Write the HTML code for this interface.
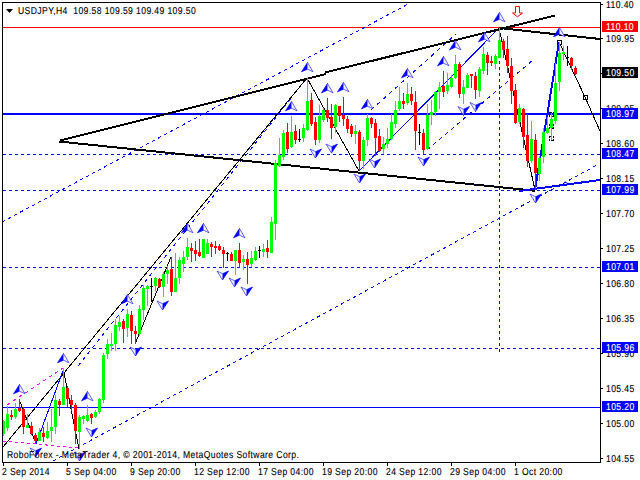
<!DOCTYPE html>
<html><head><meta charset="utf-8"><style>html,body{margin:0;padding:0;background:#fff;overflow:hidden}svg{display:block}</style></head><body>
<svg width="640" height="480" viewBox="0 0 640 480">
<rect width="640" height="480" fill="#fff"/>
<g fill="none" stroke="#000" stroke-width="1" stroke-dasharray="2 1" shape-rendering="crispEdges">
<rect x="549.5" y="112.5" width="4" height="4"/>
<rect x="549.5" y="124.5" width="4" height="4"/>
<rect x="549.5" y="136.5" width="4" height="4"/>
</g>
<g shape-rendering="crispEdges">
<line x1="3" y1="27.5" x2="600" y2="27.5" stroke="#ff0000" stroke-width="1" shape-rendering="crispEdges"/>
<line x1="3" y1="114.0" x2="600" y2="114.0" stroke="#0000ff" stroke-width="2" shape-rendering="crispEdges"/>
<line x1="3" y1="407.5" x2="600" y2="407.5" stroke="#0000ff" stroke-width="1" shape-rendering="crispEdges"/>
<line x1="3" y1="154.5" x2="600" y2="154.5" stroke="#0000ff" stroke-width="1" stroke-dasharray="3 3" shape-rendering="crispEdges"/>
<line x1="3" y1="190.5" x2="600" y2="190.5" stroke="#0000ff" stroke-width="1" stroke-dasharray="3 3" shape-rendering="crispEdges"/>
<line x1="3" y1="267.5" x2="600" y2="267.5" stroke="#0000ff" stroke-width="1" stroke-dasharray="3 3" shape-rendering="crispEdges"/>
<line x1="3" y1="348.5" x2="600" y2="348.5" stroke="#0000ff" stroke-width="1" stroke-dasharray="3 3" shape-rendering="crispEdges"/>
</g>
<line x1="499.5" y1="31" x2="499.5" y2="352" stroke="#0000ff" stroke-width="1" stroke-dasharray="3 3" shape-rendering="crispEdges"/>
<g shape-rendering="crispEdges">
<line x1="2" y1="222" x2="410" y2="3" stroke="#0000ff" stroke-width="1" stroke-dasharray="3.405 3.405"/>
<line x1="53" y1="461" x2="597" y2="165" stroke="#0000ff" stroke-width="1" stroke-dasharray="3.415 3.415"/>
<line x1="78" y1="366" x2="293" y2="96" stroke="#0000ff" stroke-width="1" stroke-dasharray="3.835 3.835"/>
<line x1="371" y1="110" x2="456" y2="34" stroke="#0000ff" stroke-width="1" stroke-dasharray="4.024 4.024"/>
<line x1="427" y1="150" x2="533" y2="60" stroke="#0000ff" stroke-width="1" stroke-dasharray="3.935 3.935"/>
<line x1="7" y1="405" x2="63" y2="368" stroke="#ff00ff" stroke-width="1" stroke-dasharray="3.596 3.596"/>
<line x1="3" y1="441" x2="79" y2="448" stroke="#ff00ff" stroke-width="1" stroke-dasharray="3.013 3.013"/>
</g>
<g fill="#fff" stroke="#000" stroke-width="1" shape-rendering="crispEdges">
<rect x="557.5" y="40.5" width="4" height="4"/>
<rect x="583.5" y="95.5" width="4" height="4"/>
</g>
<g shape-rendering="crispEdges">
<line x1="3" y1="447" x2="307" y2="78" stroke="#000000" stroke-width="1"/>
<line x1="19" y1="399" x2="36" y2="444" stroke="#000000" stroke-width="1"/>
<line x1="63" y1="368" x2="79" y2="449" stroke="#000000" stroke-width="1"/>
<line x1="135" y1="344" x2="171" y2="257" stroke="#000000" stroke-width="1"/>
<line x1="307" y1="78" x2="359" y2="171" stroke="#000000" stroke-width="1"/>
<line x1="499" y1="28" x2="535" y2="190" stroke="#000000" stroke-width="1"/>
<line x1="559" y1="42" x2="585" y2="97" stroke="#000000" stroke-width="1"/>
<line x1="585" y1="97" x2="600" y2="131" stroke="#000000" stroke-width="1"/>
<line x1="36" y1="444" x2="64" y2="368" stroke="#0000ff" stroke-width="1"/>
<line x1="359" y1="171" x2="499" y2="28" stroke="#0000ff" stroke-width="1"/>
</g>
<g shape-rendering="crispEdges">
<line x1="60" y1="140.5" x2="326" y2="74" stroke="#000000" stroke-width="2"/>
<line x1="325" y1="72.5" x2="555" y2="15.5" stroke="#000000" stroke-width="2"/>
<line x1="59" y1="141.5" x2="535" y2="190.8" stroke="#000000" stroke-width="2"/>
<line x1="499" y1="28" x2="600" y2="39" stroke="#000000" stroke-width="2"/>
<line x1="519" y1="191" x2="600" y2="180" stroke="#0000ff" stroke-width="2"/>
<line x1="535" y1="190" x2="559" y2="42" stroke="#0000ff" stroke-width="2"/>
</g>
<circle cx="565.5" cy="183.5" r="1.5" fill="none" stroke="#0000ff" stroke-width="1"/>
<g><path d="M19.5 384.5 L13.5 393.8 L19.5 391.2 Z" fill="#0000ff" stroke="#0000ff" stroke-width="0.7"/><path d="M19.5 384.5 L25 393.8 L19.5 391.2" fill="#f0f0ff" stroke="#0000ff" stroke-width="0.8" stroke-opacity="0.75"/></g>
<g><path d="M63.5 353.5 L57.5 362.8 L63.5 360.2 Z" fill="#0000ff" stroke="#0000ff" stroke-width="0.7"/><path d="M63.5 353.5 L69 362.8 L63.5 360.2" fill="#f0f0ff" stroke="#0000ff" stroke-width="0.8" stroke-opacity="0.75"/></g>
<g><path d="M87.5 391.5 L81.5 400.8 L87.5 398.2 Z" fill="#0000ff" stroke="#0000ff" stroke-width="0.7"/><path d="M87.5 391.5 L93 400.8 L87.5 398.2" fill="#f0f0ff" stroke="#0000ff" stroke-width="0.8" stroke-opacity="0.75"/></g>
<g><path d="M127.5 294.5 L121.5 303.8 L127.5 301.2 Z" fill="#0000ff" stroke="#0000ff" stroke-width="0.7"/><path d="M127.5 294.5 L133 303.8 L127.5 301.2" fill="#f0f0ff" stroke="#0000ff" stroke-width="0.8" stroke-opacity="0.75"/></g>
<g><path d="M187.5 223.5 L181.5 232.8 L187.5 230.2 Z" fill="#0000ff" stroke="#0000ff" stroke-width="0.7"/><path d="M187.5 223.5 L193 232.8 L187.5 230.2" fill="#f0f0ff" stroke="#0000ff" stroke-width="0.8" stroke-opacity="0.75"/></g>
<g><path d="M203.5 223.5 L197.5 232.8 L203.5 230.2 Z" fill="#0000ff" stroke="#0000ff" stroke-width="0.7"/><path d="M203.5 223.5 L209 232.8 L203.5 230.2" fill="#f0f0ff" stroke="#0000ff" stroke-width="0.8" stroke-opacity="0.75"/></g>
<g><path d="M239.5 228.5 L233.5 237.8 L239.5 235.2 Z" fill="#0000ff" stroke="#0000ff" stroke-width="0.7"/><path d="M239.5 228.5 L245 237.8 L239.5 235.2" fill="#f0f0ff" stroke="#0000ff" stroke-width="0.8" stroke-opacity="0.75"/></g>
<g><path d="M291.5 101.5 L285.5 110.8 L291.5 108.2 Z" fill="#0000ff" stroke="#0000ff" stroke-width="0.7"/><path d="M291.5 101.5 L297 110.8 L291.5 108.2" fill="#f0f0ff" stroke="#0000ff" stroke-width="0.8" stroke-opacity="0.75"/></g>
<g><path d="M307.5 62.5 L301.5 71.8 L307.5 69.2 Z" fill="#0000ff" stroke="#0000ff" stroke-width="0.7"/><path d="M307.5 62.5 L313 71.8 L307.5 69.2" fill="#f0f0ff" stroke="#0000ff" stroke-width="0.8" stroke-opacity="0.75"/></g>
<g><path d="M327.5 83.5 L321.5 92.8 L327.5 90.2 Z" fill="#0000ff" stroke="#0000ff" stroke-width="0.7"/><path d="M327.5 83.5 L333 92.8 L327.5 90.2" fill="#f0f0ff" stroke="#0000ff" stroke-width="0.8" stroke-opacity="0.75"/></g>
<g><path d="M343.5 82.5 L337.5 91.8 L343.5 89.2 Z" fill="#0000ff" stroke="#0000ff" stroke-width="0.7"/><path d="M343.5 82.5 L349 91.8 L343.5 89.2" fill="#f0f0ff" stroke="#0000ff" stroke-width="0.8" stroke-opacity="0.75"/></g>
<g><path d="M367.5 99.5 L361.5 108.8 L367.5 106.2 Z" fill="#0000ff" stroke="#0000ff" stroke-width="0.7"/><path d="M367.5 99.5 L373 108.8 L367.5 106.2" fill="#f0f0ff" stroke="#0000ff" stroke-width="0.8" stroke-opacity="0.75"/></g>
<g><path d="M407.5 68.5 L401.5 77.8 L407.5 75.2 Z" fill="#0000ff" stroke="#0000ff" stroke-width="0.7"/><path d="M407.5 68.5 L413 77.8 L407.5 75.2" fill="#f0f0ff" stroke="#0000ff" stroke-width="0.8" stroke-opacity="0.75"/></g>
<g><path d="M443.5 56.5 L437.5 65.8 L443.5 63.2 Z" fill="#0000ff" stroke="#0000ff" stroke-width="0.7"/><path d="M443.5 56.5 L449 65.8 L443.5 63.2" fill="#f0f0ff" stroke="#0000ff" stroke-width="0.8" stroke-opacity="0.75"/></g>
<g><path d="M455.5 40.5 L449.5 49.8 L455.5 47.2 Z" fill="#0000ff" stroke="#0000ff" stroke-width="0.7"/><path d="M455.5 40.5 L461 49.8 L455.5 47.2" fill="#f0f0ff" stroke="#0000ff" stroke-width="0.8" stroke-opacity="0.75"/></g>
<g><path d="M484.5 32.5 L478.5 41.8 L484.5 39.2 Z" fill="#0000ff" stroke="#0000ff" stroke-width="0.7"/><path d="M484.5 32.5 L490 41.8 L484.5 39.2" fill="#f0f0ff" stroke="#0000ff" stroke-width="0.8" stroke-opacity="0.75"/></g>
<g><path d="M499.5 12.5 L493.5 21.8 L499.5 19.2 Z" fill="#0000ff" stroke="#0000ff" stroke-width="0.7"/><path d="M499.5 12.5 L505 21.8 L499.5 19.2" fill="#f0f0ff" stroke="#0000ff" stroke-width="0.8" stroke-opacity="0.75"/></g>
<g><path d="M559.5 27.5 L553.5 36.8 L559.5 34.2 Z" fill="#0000ff" stroke="#0000ff" stroke-width="0.7"/><path d="M559.5 27.5 L565 36.8 L559.5 34.2" fill="#f0f0ff" stroke="#0000ff" stroke-width="0.8" stroke-opacity="0.75"/></g>
<g><path d="M35.5 457 L41.5 448 L35.5 450.7 Z" fill="#0000ff" stroke="#0000ff" stroke-width="0.7"/><path d="M35.5 457 L30 448 L35.5 450.7" fill="#f0f0ff" stroke="#0000ff" stroke-width="0.8" stroke-opacity="0.75"/></g>
<g><path d="M79.5 461 L85.5 452 L79.5 454.7 Z" fill="#0000ff" stroke="#0000ff" stroke-width="0.7"/><path d="M79.5 461 L74 452 L79.5 454.7" fill="#f0f0ff" stroke="#0000ff" stroke-width="0.8" stroke-opacity="0.75"/></g>
<g><path d="M91.5 437 L97.5 428 L91.5 430.7 Z" fill="#0000ff" stroke="#0000ff" stroke-width="0.7"/><path d="M91.5 437 L86 428 L91.5 430.7" fill="#f0f0ff" stroke="#0000ff" stroke-width="0.8" stroke-opacity="0.75"/></g>
<g><path d="M135.5 356 L141.5 347 L135.5 349.7 Z" fill="#0000ff" stroke="#0000ff" stroke-width="0.7"/><path d="M135.5 356 L130 347 L135.5 349.7" fill="#f0f0ff" stroke="#0000ff" stroke-width="0.8" stroke-opacity="0.75"/></g>
<g><path d="M162.5 310 L168.5 301 L162.5 303.7 Z" fill="#0000ff" stroke="#0000ff" stroke-width="0.7"/><path d="M162.5 310 L157 301 L162.5 303.7" fill="#f0f0ff" stroke="#0000ff" stroke-width="0.8" stroke-opacity="0.75"/></g>
<g><path d="M222.5 280 L228.5 271 L222.5 273.7 Z" fill="#0000ff" stroke="#0000ff" stroke-width="0.7"/><path d="M222.5 280 L217 271 L222.5 273.7" fill="#f0f0ff" stroke="#0000ff" stroke-width="0.8" stroke-opacity="0.75"/></g>
<g><path d="M234.5 287 L240.5 278 L234.5 280.7 Z" fill="#0000ff" stroke="#0000ff" stroke-width="0.7"/><path d="M234.5 287 L229 278 L234.5 280.7" fill="#f0f0ff" stroke="#0000ff" stroke-width="0.8" stroke-opacity="0.75"/></g>
<g><path d="M246.5 296 L252.5 287 L246.5 289.7 Z" fill="#0000ff" stroke="#0000ff" stroke-width="0.7"/><path d="M246.5 296 L241 287 L246.5 289.7" fill="#f0f0ff" stroke="#0000ff" stroke-width="0.8" stroke-opacity="0.75"/></g>
<g><path d="M315.5 158 L321.5 149 L315.5 151.7 Z" fill="#0000ff" stroke="#0000ff" stroke-width="0.7"/><path d="M315.5 158 L310 149 L315.5 151.7" fill="#f0f0ff" stroke="#0000ff" stroke-width="0.8" stroke-opacity="0.75"/></g>
<g><path d="M331.5 153 L337.5 144 L331.5 146.7 Z" fill="#0000ff" stroke="#0000ff" stroke-width="0.7"/><path d="M331.5 153 L326 144 L331.5 146.7" fill="#f0f0ff" stroke="#0000ff" stroke-width="0.8" stroke-opacity="0.75"/></g>
<g><path d="M359.5 183 L365.5 174 L359.5 176.7 Z" fill="#0000ff" stroke="#0000ff" stroke-width="0.7"/><path d="M359.5 183 L354 174 L359.5 176.7" fill="#f0f0ff" stroke="#0000ff" stroke-width="0.8" stroke-opacity="0.75"/></g>
<g><path d="M374.5 168 L380.5 159 L374.5 161.7 Z" fill="#0000ff" stroke="#0000ff" stroke-width="0.7"/><path d="M374.5 168 L369 159 L374.5 161.7" fill="#f0f0ff" stroke="#0000ff" stroke-width="0.8" stroke-opacity="0.75"/></g>
<g><path d="M423.5 166 L429.5 157 L423.5 159.7 Z" fill="#0000ff" stroke="#0000ff" stroke-width="0.7"/><path d="M423.5 166 L418 157 L423.5 159.7" fill="#f0f0ff" stroke="#0000ff" stroke-width="0.8" stroke-opacity="0.75"/></g>
<g><path d="M463.5 115.5 L469.5 106.5 L463.5 109.2 Z" fill="#0000ff" stroke="#0000ff" stroke-width="0.7"/><path d="M463.5 115.5 L458 106.5 L463.5 109.2" fill="#f0f0ff" stroke="#0000ff" stroke-width="0.8" stroke-opacity="0.75"/></g>
<g><path d="M475.5 111.5 L481.5 102.5 L475.5 105.2 Z" fill="#0000ff" stroke="#0000ff" stroke-width="0.7"/><path d="M475.5 111.5 L470 102.5 L475.5 105.2" fill="#f0f0ff" stroke="#0000ff" stroke-width="0.8" stroke-opacity="0.75"/></g>
<g><path d="M535.5 203 L541.5 194 L535.5 196.7 Z" fill="#0000ff" stroke="#0000ff" stroke-width="0.7"/><path d="M535.5 203 L530 194 L535.5 196.7" fill="#f0f0ff" stroke="#0000ff" stroke-width="0.8" stroke-opacity="0.75"/></g>
<path d="M515.5 6.5 H519.5 V13 H522.5 L517.5 16.8 L512.5 13 H515.5 Z" fill="#fff" stroke="#ff0000" stroke-width="1"/>
<g shape-rendering="crispEdges">
<rect x="3" y="420" width="1" height="16" fill="#00ff00"/>
<rect x="2" y="421" width="3" height="13" fill="#00ff00"/>
<rect x="7" y="406" width="1" height="25" fill="#00ff00"/>
<rect x="6" y="414" width="3" height="14" fill="#00ff00"/>
<rect x="11" y="410" width="1" height="10" fill="#ff0000"/>
<rect x="10" y="415" width="3" height="2" fill="#ff0000"/>
<rect x="15" y="403" width="1" height="16" fill="#00ff00"/>
<rect x="14" y="409" width="3" height="8" fill="#00ff00"/>
<rect x="19" y="399" width="1" height="13" fill="#ff0000"/>
<rect x="18" y="408" width="3" height="3" fill="#ff0000"/>
<rect x="23" y="407" width="1" height="27" fill="#ff0000"/>
<rect x="22" y="409" width="3" height="18" fill="#ff0000"/>
<rect x="27" y="414" width="1" height="14" fill="#00ff00"/>
<rect x="26" y="425" width="3" height="3" fill="#00ff00"/>
<rect x="31" y="422" width="1" height="13" fill="#ff0000"/>
<rect x="30" y="426" width="3" height="8" fill="#ff0000"/>
<rect x="35" y="433" width="1" height="11" fill="#ff0000"/>
<rect x="34" y="435" width="3" height="6" fill="#ff0000"/>
<rect x="39" y="428" width="1" height="13" fill="#00ff00"/>
<rect x="38" y="432" width="3" height="9" fill="#00ff00"/>
<rect x="43" y="427" width="1" height="15" fill="#ff0000"/>
<rect x="42" y="433" width="3" height="4" fill="#ff0000"/>
<rect x="47" y="422" width="1" height="17" fill="#00ff00"/>
<rect x="46" y="431" width="3" height="7" fill="#00ff00"/>
<rect x="51" y="409" width="1" height="33" fill="#00ff00"/>
<rect x="50" y="427" width="3" height="4" fill="#00ff00"/>
<rect x="55" y="395" width="1" height="39" fill="#00ff00"/>
<rect x="54" y="400" width="3" height="27" fill="#00ff00"/>
<rect x="59" y="399" width="1" height="17" fill="#ff0000"/>
<rect x="58" y="401" width="3" height="4" fill="#ff0000"/>
<rect x="63" y="368" width="1" height="37" fill="#00ff00"/>
<rect x="62" y="387" width="3" height="18" fill="#00ff00"/>
<rect x="67" y="386" width="1" height="21" fill="#ff0000"/>
<rect x="66" y="388" width="3" height="11" fill="#ff0000"/>
<rect x="71" y="395" width="1" height="16" fill="#ff0000"/>
<rect x="70" y="400" width="3" height="5" fill="#ff0000"/>
<rect x="75" y="403" width="1" height="41" fill="#ff0000"/>
<rect x="74" y="405" width="3" height="26" fill="#ff0000"/>
<rect x="79" y="415" width="1" height="34" fill="#00ff00"/>
<rect x="78" y="417" width="3" height="15" fill="#00ff00"/>
<rect x="83" y="415" width="1" height="9" fill="#00ff00"/>
<rect x="82" y="416" width="3" height="3" fill="#00ff00"/>
<rect x="87" y="405" width="1" height="17" fill="#00ff00"/>
<rect x="86" y="415" width="3" height="6" fill="#00ff00"/>
<rect x="91" y="413" width="1" height="11" fill="#ff0000"/>
<rect x="90" y="414" width="3" height="4" fill="#ff0000"/>
<rect x="95" y="410" width="1" height="8" fill="#00ff00"/>
<rect x="94" y="412" width="3" height="5" fill="#00ff00"/>
<rect x="99" y="398" width="1" height="16" fill="#00ff00"/>
<rect x="98" y="399" width="3" height="13" fill="#00ff00"/>
<rect x="103" y="353" width="1" height="50" fill="#00ff00"/>
<rect x="102" y="355" width="3" height="45" fill="#00ff00"/>
<rect x="107" y="339" width="1" height="20" fill="#00ff00"/>
<rect x="106" y="344" width="3" height="10" fill="#00ff00"/>
<rect x="111" y="333" width="1" height="18" fill="#00ff00"/>
<rect x="110" y="344" width="3" height="2" fill="#00ff00"/>
<rect x="115" y="319" width="1" height="32" fill="#00ff00"/>
<rect x="114" y="325" width="3" height="19" fill="#00ff00"/>
<rect x="119" y="316" width="1" height="15" fill="#00ff00"/>
<rect x="118" y="322" width="3" height="5" fill="#00ff00"/>
<rect x="123" y="319" width="1" height="24" fill="#ff0000"/>
<rect x="122" y="321" width="3" height="8" fill="#ff0000"/>
<rect x="127" y="309" width="1" height="28" fill="#00ff00"/>
<rect x="126" y="314" width="3" height="14" fill="#00ff00"/>
<rect x="131" y="311" width="1" height="33" fill="#ff0000"/>
<rect x="130" y="315" width="3" height="16" fill="#ff0000"/>
<rect x="135" y="326" width="1" height="18" fill="#ff0000"/>
<rect x="134" y="331" width="3" height="3" fill="#ff0000"/>
<rect x="139" y="305" width="1" height="31" fill="#00ff00"/>
<rect x="138" y="309" width="3" height="25" fill="#00ff00"/>
<rect x="143" y="285" width="1" height="35" fill="#00ff00"/>
<rect x="142" y="288" width="3" height="22" fill="#00ff00"/>
<rect x="147" y="285" width="1" height="21" fill="#00ff00"/>
<rect x="146" y="286" width="3" height="3" fill="#00ff00"/>
<rect x="151" y="278" width="1" height="24" fill="#000"/>
<rect x="150" y="286" width="3" height="1" fill="#000"/>
<rect x="155" y="277" width="1" height="14" fill="#00ff00"/>
<rect x="154" y="278" width="3" height="8" fill="#00ff00"/>
<rect x="159" y="278" width="1" height="10" fill="#ff0000"/>
<rect x="158" y="279" width="3" height="8" fill="#ff0000"/>
<rect x="163" y="272" width="1" height="25" fill="#00ff00"/>
<rect x="162" y="274" width="3" height="13" fill="#00ff00"/>
<rect x="167" y="266" width="1" height="18" fill="#00ff00"/>
<rect x="166" y="270" width="3" height="4" fill="#00ff00"/>
<rect x="171" y="257" width="1" height="39" fill="#ff0000"/>
<rect x="170" y="269" width="3" height="23" fill="#ff0000"/>
<rect x="175" y="253" width="1" height="39" fill="#00ff00"/>
<rect x="174" y="278" width="3" height="14" fill="#00ff00"/>
<rect x="179" y="257" width="1" height="27" fill="#00ff00"/>
<rect x="178" y="260" width="3" height="18" fill="#00ff00"/>
<rect x="183" y="251" width="1" height="21" fill="#00ff00"/>
<rect x="182" y="257" width="3" height="7" fill="#00ff00"/>
<rect x="187" y="238" width="1" height="22" fill="#00ff00"/>
<rect x="186" y="247" width="3" height="10" fill="#00ff00"/>
<rect x="191" y="243" width="1" height="19" fill="#ff0000"/>
<rect x="190" y="248" width="3" height="3" fill="#ff0000"/>
<rect x="195" y="241" width="1" height="20" fill="#ff0000"/>
<rect x="194" y="250" width="3" height="4" fill="#ff0000"/>
<rect x="199" y="239" width="1" height="18" fill="#ff0000"/>
<rect x="198" y="252" width="3" height="4" fill="#ff0000"/>
<rect x="203" y="239" width="1" height="19" fill="#00ff00"/>
<rect x="202" y="239" width="3" height="19" fill="#00ff00"/>
<rect x="207" y="239" width="1" height="15" fill="#00ff00"/>
<rect x="206" y="243" width="3" height="11" fill="#00ff00"/>
<rect x="211" y="242" width="1" height="15" fill="#ff0000"/>
<rect x="210" y="244" width="3" height="3" fill="#ff0000"/>
<rect x="215" y="241" width="1" height="13" fill="#ff0000"/>
<rect x="214" y="246" width="3" height="2" fill="#ff0000"/>
<rect x="219" y="244" width="1" height="7" fill="#ff0000"/>
<rect x="218" y="246" width="3" height="4" fill="#ff0000"/>
<rect x="223" y="247" width="1" height="21" fill="#ff0000"/>
<rect x="222" y="250" width="3" height="4" fill="#ff0000"/>
<rect x="227" y="252" width="1" height="9" fill="#000"/>
<rect x="226" y="253" width="3" height="1" fill="#000"/>
<rect x="231" y="252" width="1" height="9" fill="#ff0000"/>
<rect x="230" y="254" width="3" height="7" fill="#ff0000"/>
<rect x="235" y="250" width="1" height="25" fill="#00ff00"/>
<rect x="234" y="250" width="3" height="11" fill="#00ff00"/>
<rect x="239" y="243" width="1" height="25" fill="#ff0000"/>
<rect x="238" y="250" width="3" height="13" fill="#ff0000"/>
<rect x="243" y="255" width="1" height="15" fill="#00ff00"/>
<rect x="242" y="259" width="3" height="3" fill="#00ff00"/>
<rect x="247" y="252" width="1" height="32" fill="#ff0000"/>
<rect x="246" y="259" width="3" height="6" fill="#ff0000"/>
<rect x="251" y="251" width="1" height="16" fill="#00ff00"/>
<rect x="250" y="258" width="3" height="6" fill="#00ff00"/>
<rect x="255" y="247" width="1" height="14" fill="#00ff00"/>
<rect x="254" y="251" width="3" height="9" fill="#00ff00"/>
<rect x="259" y="246" width="1" height="12" fill="#000"/>
<rect x="258" y="250" width="3" height="1" fill="#000"/>
<rect x="263" y="244" width="1" height="13" fill="#00ff00"/>
<rect x="262" y="249" width="3" height="3" fill="#00ff00"/>
<rect x="267" y="240" width="1" height="18" fill="#ff0000"/>
<rect x="266" y="248" width="3" height="4" fill="#ff0000"/>
<rect x="271" y="217" width="1" height="36" fill="#00ff00"/>
<rect x="270" y="222" width="3" height="31" fill="#00ff00"/>
<rect x="275" y="160" width="1" height="80" fill="#00ff00"/>
<rect x="274" y="163" width="3" height="61" fill="#00ff00"/>
<rect x="279" y="138" width="1" height="29" fill="#00ff00"/>
<rect x="278" y="155" width="3" height="11" fill="#00ff00"/>
<rect x="283" y="130" width="1" height="30" fill="#00ff00"/>
<rect x="282" y="133" width="3" height="24" fill="#00ff00"/>
<rect x="287" y="123" width="1" height="30" fill="#ff0000"/>
<rect x="286" y="132" width="3" height="17" fill="#ff0000"/>
<rect x="291" y="116" width="1" height="32" fill="#00ff00"/>
<rect x="290" y="132" width="3" height="15" fill="#00ff00"/>
<rect x="295" y="125" width="1" height="19" fill="#ff0000"/>
<rect x="294" y="131" width="3" height="9" fill="#ff0000"/>
<rect x="299" y="129" width="1" height="13" fill="#000"/>
<rect x="298" y="139" width="3" height="1" fill="#000"/>
<rect x="303" y="124" width="1" height="18" fill="#00ff00"/>
<rect x="302" y="128" width="3" height="10" fill="#00ff00"/>
<rect x="307" y="78" width="1" height="53" fill="#00ff00"/>
<rect x="306" y="101" width="3" height="29" fill="#00ff00"/>
<rect x="311" y="93" width="1" height="33" fill="#ff0000"/>
<rect x="310" y="100" width="3" height="24" fill="#ff0000"/>
<rect x="315" y="117" width="1" height="28" fill="#ff0000"/>
<rect x="314" y="122" width="3" height="18" fill="#ff0000"/>
<rect x="319" y="105" width="1" height="38" fill="#00ff00"/>
<rect x="318" y="116" width="3" height="24" fill="#00ff00"/>
<rect x="323" y="108" width="1" height="14" fill="#00ff00"/>
<rect x="322" y="110" width="3" height="10" fill="#00ff00"/>
<rect x="327" y="98" width="1" height="24" fill="#ff0000"/>
<rect x="326" y="110" width="3" height="8" fill="#ff0000"/>
<rect x="331" y="104" width="1" height="35" fill="#ff0000"/>
<rect x="330" y="117" width="3" height="11" fill="#ff0000"/>
<rect x="335" y="104" width="1" height="29" fill="#00ff00"/>
<rect x="334" y="105" width="3" height="22" fill="#00ff00"/>
<rect x="339" y="106" width="1" height="16" fill="#ff0000"/>
<rect x="338" y="106" width="3" height="10" fill="#ff0000"/>
<rect x="343" y="97" width="1" height="29" fill="#ff0000"/>
<rect x="342" y="115" width="3" height="4" fill="#ff0000"/>
<rect x="347" y="116" width="1" height="17" fill="#ff0000"/>
<rect x="346" y="119" width="3" height="10" fill="#ff0000"/>
<rect x="351" y="124" width="1" height="13" fill="#ff0000"/>
<rect x="350" y="126" width="3" height="8" fill="#ff0000"/>
<rect x="355" y="125" width="1" height="19" fill="#00ff00"/>
<rect x="354" y="131" width="3" height="3" fill="#00ff00"/>
<rect x="359" y="130" width="1" height="41" fill="#ff0000"/>
<rect x="358" y="132" width="3" height="29" fill="#ff0000"/>
<rect x="363" y="137" width="1" height="32" fill="#00ff00"/>
<rect x="362" y="140" width="3" height="21" fill="#00ff00"/>
<rect x="367" y="114" width="1" height="32" fill="#00ff00"/>
<rect x="366" y="118" width="3" height="22" fill="#00ff00"/>
<rect x="371" y="117" width="1" height="11" fill="#ff0000"/>
<rect x="370" y="118" width="3" height="6" fill="#ff0000"/>
<rect x="375" y="119" width="1" height="37" fill="#ff0000"/>
<rect x="374" y="123" width="3" height="15" fill="#ff0000"/>
<rect x="379" y="129" width="1" height="23" fill="#ff0000"/>
<rect x="378" y="136" width="3" height="15" fill="#ff0000"/>
<rect x="383" y="137" width="1" height="17" fill="#00ff00"/>
<rect x="382" y="144" width="3" height="5" fill="#00ff00"/>
<rect x="387" y="128" width="1" height="20" fill="#00ff00"/>
<rect x="386" y="139" width="3" height="5" fill="#00ff00"/>
<rect x="391" y="114" width="1" height="26" fill="#00ff00"/>
<rect x="390" y="122" width="3" height="17" fill="#00ff00"/>
<rect x="395" y="101" width="1" height="27" fill="#00ff00"/>
<rect x="394" y="110" width="3" height="14" fill="#00ff00"/>
<rect x="399" y="87" width="1" height="24" fill="#00ff00"/>
<rect x="398" y="101" width="3" height="8" fill="#00ff00"/>
<rect x="403" y="93" width="1" height="16" fill="#ff0000"/>
<rect x="402" y="101" width="3" height="3" fill="#ff0000"/>
<rect x="407" y="83" width="1" height="22" fill="#00ff00"/>
<rect x="406" y="94" width="3" height="9" fill="#00ff00"/>
<rect x="411" y="87" width="1" height="18" fill="#ff0000"/>
<rect x="410" y="94" width="3" height="7" fill="#ff0000"/>
<rect x="415" y="91" width="1" height="59" fill="#ff0000"/>
<rect x="414" y="102" width="3" height="29" fill="#ff0000"/>
<rect x="419" y="124" width="1" height="21" fill="#000"/>
<rect x="418" y="132" width="3" height="1" fill="#000"/>
<rect x="423" y="129" width="1" height="25" fill="#ff0000"/>
<rect x="422" y="133" width="3" height="17" fill="#ff0000"/>
<rect x="427" y="104" width="1" height="46" fill="#00ff00"/>
<rect x="426" y="115" width="3" height="34" fill="#00ff00"/>
<rect x="431" y="100" width="1" height="25" fill="#00ff00"/>
<rect x="430" y="112" width="3" height="3" fill="#00ff00"/>
<rect x="435" y="91" width="1" height="25" fill="#00ff00"/>
<rect x="434" y="92" width="3" height="20" fill="#00ff00"/>
<rect x="439" y="82" width="1" height="27" fill="#00ff00"/>
<rect x="438" y="87" width="3" height="5" fill="#00ff00"/>
<rect x="443" y="71" width="1" height="26" fill="#ff0000"/>
<rect x="442" y="86" width="3" height="6" fill="#ff0000"/>
<rect x="447" y="73" width="1" height="21" fill="#00ff00"/>
<rect x="446" y="85" width="3" height="6" fill="#00ff00"/>
<rect x="451" y="75" width="1" height="13" fill="#00ff00"/>
<rect x="450" y="78" width="3" height="9" fill="#00ff00"/>
<rect x="455" y="55" width="1" height="24" fill="#00ff00"/>
<rect x="454" y="64" width="3" height="14" fill="#00ff00"/>
<rect x="459" y="62" width="1" height="36" fill="#ff0000"/>
<rect x="458" y="64" width="3" height="30" fill="#ff0000"/>
<rect x="463" y="80" width="1" height="24" fill="#00ff00"/>
<rect x="462" y="87" width="3" height="7" fill="#00ff00"/>
<rect x="467" y="73" width="1" height="15" fill="#00ff00"/>
<rect x="466" y="75" width="3" height="13" fill="#00ff00"/>
<rect x="471" y="74" width="1" height="14" fill="#ff0000"/>
<rect x="470" y="74" width="3" height="2" fill="#ff0000"/>
<rect x="475" y="72" width="1" height="27" fill="#ff0000"/>
<rect x="474" y="76" width="3" height="14" fill="#ff0000"/>
<rect x="479" y="67" width="1" height="30" fill="#00ff00"/>
<rect x="478" y="69" width="3" height="22" fill="#00ff00"/>
<rect x="483" y="47" width="1" height="27" fill="#00ff00"/>
<rect x="482" y="54" width="3" height="17" fill="#00ff00"/>
<rect x="487" y="52" width="1" height="23" fill="#ff0000"/>
<rect x="486" y="55" width="3" height="8" fill="#ff0000"/>
<rect x="491" y="56" width="1" height="10" fill="#ff0000"/>
<rect x="490" y="61" width="3" height="2" fill="#ff0000"/>
<rect x="495" y="54" width="1" height="15" fill="#00ff00"/>
<rect x="494" y="56" width="3" height="8" fill="#00ff00"/>
<rect x="499" y="28" width="1" height="30" fill="#00ff00"/>
<rect x="498" y="40" width="3" height="18" fill="#00ff00"/>
<rect x="503" y="39" width="1" height="19" fill="#ff0000"/>
<rect x="502" y="41" width="3" height="9" fill="#ff0000"/>
<rect x="507" y="36" width="1" height="37" fill="#ff0000"/>
<rect x="506" y="49" width="3" height="17" fill="#ff0000"/>
<rect x="511" y="58" width="1" height="46" fill="#ff0000"/>
<rect x="510" y="66" width="3" height="25" fill="#ff0000"/>
<rect x="515" y="84" width="1" height="40" fill="#ff0000"/>
<rect x="514" y="90" width="3" height="33" fill="#ff0000"/>
<rect x="519" y="104" width="1" height="20" fill="#00ff00"/>
<rect x="518" y="108" width="3" height="14" fill="#00ff00"/>
<rect x="523" y="108" width="1" height="40" fill="#ff0000"/>
<rect x="522" y="109" width="3" height="28" fill="#ff0000"/>
<rect x="527" y="114" width="1" height="53" fill="#ff0000"/>
<rect x="526" y="135" width="3" height="26" fill="#ff0000"/>
<rect x="531" y="121" width="1" height="42" fill="#00ff00"/>
<rect x="530" y="139" width="3" height="22" fill="#00ff00"/>
<rect x="535" y="134" width="1" height="56" fill="#ff0000"/>
<rect x="534" y="140" width="3" height="33" fill="#ff0000"/>
<rect x="539" y="156" width="1" height="25" fill="#00ff00"/>
<rect x="538" y="158" width="3" height="16" fill="#00ff00"/>
<rect x="543" y="128" width="1" height="35" fill="#00ff00"/>
<rect x="542" y="132" width="3" height="25" fill="#00ff00"/>
<rect x="547" y="117" width="1" height="17" fill="#00ff00"/>
<rect x="546" y="128" width="3" height="5" fill="#00ff00"/>
<rect x="551" y="113" width="1" height="27" fill="#00ff00"/>
<rect x="550" y="119" width="3" height="9" fill="#00ff00"/>
<rect x="555" y="63" width="1" height="61" fill="#00ff00"/>
<rect x="554" y="83" width="3" height="38" fill="#00ff00"/>
<rect x="559" y="42" width="1" height="49" fill="#00ff00"/>
<rect x="558" y="53" width="3" height="29" fill="#00ff00"/>
<rect x="563" y="46" width="1" height="14" fill="#00ff00"/>
<rect x="562" y="52" width="3" height="2" fill="#00ff00"/>
<rect x="567" y="46" width="1" height="20" fill="#000"/>
<rect x="566" y="57" width="3" height="1" fill="#000"/>
<rect x="571" y="57" width="1" height="13" fill="#ff0000"/>
<rect x="570" y="58" width="3" height="8" fill="#ff0000"/>
<rect x="575" y="66" width="1" height="9" fill="#ff0000"/>
<rect x="574" y="68" width="3" height="6" fill="#ff0000"/>
</g>
<g shape-rendering="crispEdges">
<rect x="2.5" y="2.5" width="598" height="460" fill="none" stroke="#000" stroke-width="1"/>
</g>
<g style="font-family:'Liberation Sans',sans-serif;font-size:10px;letter-spacing:0.45px;text-rendering:geometricPrecision">
<rect x="600" y="4" width="3" height="1" fill="#000"/>
<text transform="translate(606,8) scale(0.86,1)" fill="#000" stroke="#000" stroke-width="0.12" xml:space="preserve">110.40</text>
<rect x="600" y="38" width="3" height="1" fill="#000"/>
<text transform="translate(606,42) scale(0.86,1)" fill="#000" stroke="#000" stroke-width="0.12" xml:space="preserve">109.95</text>
<rect x="600" y="73" width="3" height="1" fill="#000"/>
<text transform="translate(606,77) scale(0.86,1)" fill="#000" stroke="#000" stroke-width="0.12" xml:space="preserve">109.50</text>
<rect x="600" y="108" width="3" height="1" fill="#000"/>
<text transform="translate(606,112) scale(0.86,1)" fill="#000" stroke="#000" stroke-width="0.12" xml:space="preserve">109.05</text>
<rect x="600" y="143" width="3" height="1" fill="#000"/>
<text transform="translate(606,147) scale(0.86,1)" fill="#000" stroke="#000" stroke-width="0.12" xml:space="preserve">108.60</text>
<rect x="600" y="178" width="3" height="1" fill="#000"/>
<text transform="translate(606,182) scale(0.86,1)" fill="#000" stroke="#000" stroke-width="0.12" xml:space="preserve">108.15</text>
<rect x="600" y="213" width="3" height="1" fill="#000"/>
<text transform="translate(606,217) scale(0.86,1)" fill="#000" stroke="#000" stroke-width="0.12" xml:space="preserve">107.70</text>
<rect x="600" y="248" width="3" height="1" fill="#000"/>
<text transform="translate(606,252) scale(0.86,1)" fill="#000" stroke="#000" stroke-width="0.12" xml:space="preserve">107.25</text>
<rect x="600" y="283" width="3" height="1" fill="#000"/>
<text transform="translate(606,287) scale(0.86,1)" fill="#000" stroke="#000" stroke-width="0.12" xml:space="preserve">106.80</text>
<rect x="600" y="318" width="3" height="1" fill="#000"/>
<text transform="translate(606,322) scale(0.86,1)" fill="#000" stroke="#000" stroke-width="0.12" xml:space="preserve">106.35</text>
<rect x="600" y="353" width="3" height="1" fill="#000"/>
<text transform="translate(606,357) scale(0.86,1)" fill="#000" stroke="#000" stroke-width="0.12" xml:space="preserve">105.90</text>
<rect x="600" y="388" width="3" height="1" fill="#000"/>
<text transform="translate(606,392) scale(0.86,1)" fill="#000" stroke="#000" stroke-width="0.12" xml:space="preserve">105.45</text>
<rect x="600" y="423" width="3" height="1" fill="#000"/>
<text transform="translate(606,427) scale(0.86,1)" fill="#000" stroke="#000" stroke-width="0.12" xml:space="preserve">105.00</text>
<rect x="600" y="458" width="3" height="1" fill="#000"/>
<text transform="translate(606,462) scale(0.86,1)" fill="#000" stroke="#000" stroke-width="0.12" xml:space="preserve">104.55</text>
<rect x="602" y="21" width="36" height="11" fill="#ff0000"/>
<text transform="translate(606,30) scale(0.86,1)" fill="#fff" stroke="#fff" stroke-width="0.12" xml:space="preserve">110.10</text>
<rect x="602" y="67" width="36" height="11" fill="#000000"/>
<text transform="translate(606,76) scale(0.86,1)" fill="#fff" stroke="#fff" stroke-width="0.12" xml:space="preserve">109.50</text>
<rect x="602" y="108" width="36" height="11" fill="#0000ff"/>
<text transform="translate(606,117) scale(0.86,1)" fill="#fff" stroke="#fff" stroke-width="0.12" xml:space="preserve">108.97</text>
<rect x="602" y="148" width="36" height="11" fill="#0000ff"/>
<text transform="translate(606,157) scale(0.86,1)" fill="#fff" stroke="#fff" stroke-width="0.12" xml:space="preserve">108.47</text>
<rect x="602" y="184" width="36" height="11" fill="#0000ff"/>
<text transform="translate(606,193) scale(0.86,1)" fill="#fff" stroke="#fff" stroke-width="0.12" xml:space="preserve">107.99</text>
<rect x="602" y="261" width="36" height="11" fill="#0000ff"/>
<text transform="translate(606,270) scale(0.86,1)" fill="#fff" stroke="#fff" stroke-width="0.12" xml:space="preserve">107.01</text>
<rect x="602" y="342" width="36" height="11" fill="#0000ff"/>
<text transform="translate(606,351) scale(0.86,1)" fill="#fff" stroke="#fff" stroke-width="0.12" xml:space="preserve">105.96</text>
<rect x="602" y="401" width="36" height="11" fill="#0000ff"/>
<text transform="translate(606,410) scale(0.86,1)" fill="#fff" stroke="#fff" stroke-width="0.12" xml:space="preserve">105.20</text>
<rect x="3" y="462" width="1" height="4" fill="#000"/>
<text transform="translate(2,475) scale(0.86,1)" fill="#000" stroke="#000" stroke-width="0.12" xml:space="preserve">2 Sep 2014</text>
<rect x="67" y="462" width="1" height="4" fill="#000"/>
<text transform="translate(66,475) scale(0.86,1)" fill="#000" stroke="#000" stroke-width="0.12" xml:space="preserve">5 Sep 04:00</text>
<rect x="131" y="462" width="1" height="4" fill="#000"/>
<text transform="translate(130,475) scale(0.86,1)" fill="#000" stroke="#000" stroke-width="0.12" xml:space="preserve">9 Sep 20:00</text>
<rect x="195" y="462" width="1" height="4" fill="#000"/>
<text transform="translate(194,475) scale(0.86,1)" fill="#000" stroke="#000" stroke-width="0.12" xml:space="preserve">12 Sep 12:00</text>
<rect x="259" y="462" width="1" height="4" fill="#000"/>
<text transform="translate(258,475) scale(0.86,1)" fill="#000" stroke="#000" stroke-width="0.12" xml:space="preserve">17 Sep 04:00</text>
<rect x="323" y="462" width="1" height="4" fill="#000"/>
<text transform="translate(322,475) scale(0.86,1)" fill="#000" stroke="#000" stroke-width="0.12" xml:space="preserve">19 Sep 20:00</text>
<rect x="387" y="462" width="1" height="4" fill="#000"/>
<text transform="translate(386,475) scale(0.86,1)" fill="#000" stroke="#000" stroke-width="0.12" xml:space="preserve">24 Sep 12:00</text>
<rect x="451" y="462" width="1" height="4" fill="#000"/>
<text transform="translate(450,475) scale(0.86,1)" fill="#000" stroke="#000" stroke-width="0.12" xml:space="preserve">29 Sep 04:00</text>
<rect x="515" y="462" width="1" height="4" fill="#000"/>
<text transform="translate(514,475) scale(0.86,1)" fill="#000" stroke="#000" stroke-width="0.12" xml:space="preserve">1 Oct 20:00</text>
<text transform="translate(18,14) scale(0.86,1)" fill="#000" stroke="#000" stroke-width="0.12" xml:space="preserve">USDJPY,H4  109.58 109.59 109.49 109.50</text>
<text transform="translate(7,458) scale(0.86,1)" fill="#000" stroke="#000" stroke-width="0.12" xml:space="preserve">RoboForex - MetaTrader 4, © 2001-2014, MetaQuotes Software Corp.</text>
</g>
<path d="M6 9 H13 L9.5 13 Z" fill="#000"/>
</svg>
</body></html>
